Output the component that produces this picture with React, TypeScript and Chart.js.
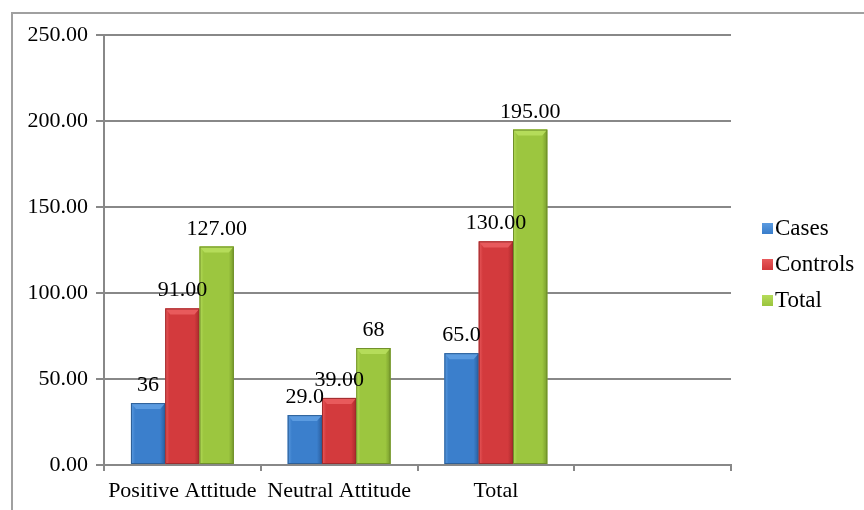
import React, { useEffect, useRef } from "react";
import { Chart, registerables } from "chart.js";

Chart.register(...registerables);

const categories = ["Positive Attitude", "Neutral Attitude", "Total", ""];
const seriesNames = ["Cases", "Controls", "Total"];
const casesValues = [36, 29, 65, null];
const controlsValues = [91, 39, 130, null];
const totalValues = [127, 68, 195, null];
const casesLabels = ["36", "29.0", "65.0", ""];
const controlsLabels = ["91.00", "39.00", "130.00", ""];
const totalLabels = ["127.00", "68", "195.00", ""];
const yTicks = [0, 50, 100, 150, 200, 250];

const FONT = "'Liberation Serif', 'Times New Roman', serif";
const palette = [
  { main: "#3b7fcc", light: "#5b9be0", dark: "#2a5e9e", border: "#2d5f97" },
  { main: "#d33a3d", light: "#e85a5c", dark: "#a8292b", border: "#9e2b2d" },
  { main: "#9cc63f", light: "#b5dc5a", dark: "#789c2c", border: "#6f8f2a" },
];

const bevelPlugin = {
  id: "bevel",
  afterDatasetsDraw(chart: any) {
    const ctx = chart.ctx;
    chart.data.datasets.forEach((ds: any, di: number) => {
      const meta = chart.getDatasetMeta(di);
      const col = palette[di];
      meta.data.forEach((bar: any, i: number) => {
        if (ds.data[i] == null) return;
        const w = bar.width;
        const left = bar.x - w / 2;
        const top = bar.y;
        const bottom = bar.base;
        const h = bottom - top;
        ctx.save();
        const g = ctx.createLinearGradient(left, 0, left + w, 0);
        g.addColorStop(0, col.light);
        g.addColorStop(0.12, col.main);
        g.addColorStop(0.85, col.main);
        g.addColorStop(1, col.dark);
        ctx.fillStyle = g;
        ctx.fillRect(left, top, w, h);
        const bh = Math.min(6, h / 2);
        ctx.fillStyle = col.light;
        ctx.beginPath();
        ctx.moveTo(left, top);
        ctx.lineTo(left + w, top);
        ctx.lineTo(left + w - 5, top + bh);
        ctx.lineTo(left + 5, top + bh);
        ctx.closePath();
        ctx.fill();
        ctx.strokeStyle = col.border;
        ctx.lineWidth = 1;
        ctx.strokeRect(left + 0.5, top + 0.5, w - 1, h - 1);
        ctx.restore();
      });
    });
  },
};

const labelPlugin = {
  id: "valueLabels",
  afterDatasetsDraw(chart: any) {
    const ctx = chart.ctx;
    const all = [casesLabels, controlsLabels, totalLabels];
    ctx.save();
    ctx.font = `22px ${FONT}`;
    ctx.fillStyle = "#000";
    ctx.textAlign = "center";
    ctx.textBaseline = "alphabetic";
    chart.data.datasets.forEach((ds: any, di: number) => {
      const meta = chart.getDatasetMeta(di);
      meta.data.forEach((bar: any, i: number) => {
        if (ds.data[i] == null) return;
        ctx.fillText(all[di][i], bar.x, bar.y - 12);
      });
    });
    ctx.restore();
  },
};

const framePlugin = {
  id: "frame",
  beforeDraw(chart: any) {
    const ctx = chart.ctx;
    ctx.save();
    ctx.fillStyle = "#fff";
    ctx.fillRect(0, 0, chart.width, chart.height);
    ctx.strokeStyle = "#a0a0a0";
    ctx.lineWidth = 2;
    ctx.beginPath();
    ctx.moveTo(12, chart.height + 5);
    ctx.lineTo(12, 13);
    ctx.lineTo(chart.width + 5, 13);
    ctx.stroke();
    ctx.restore();
  },
};

const legendPlugin = {
  id: "customLegend",
  afterDraw(chart: any) {
    const ctx = chart.ctx;
    const x = chart.chartArea.right + 31;
    const y0 = 228;
    ctx.save();
    ctx.font = `23px ${FONT}`;
    ctx.textBaseline = "middle";
    ctx.textAlign = "left";
    seriesNames.forEach((name, i) => {
      const y = y0 + i * 36;
      const col = palette[i];
      const g = ctx.createLinearGradient(x, y - 5, x, y + 5);
      g.addColorStop(0, col.light);
      g.addColorStop(1, col.main);
      ctx.fillStyle = g;
      ctx.fillRect(x, y - 5, 11, 11);
      ctx.fillStyle = "#000";
      ctx.fillText(name, x + 13, y + 1);
    });
    ctx.restore();
  },
};

export default function App() {
  const ref = useRef<HTMLCanvasElement>(null);
  useEffect(() => {
    if (!ref.current) return;
    const chart = new Chart(ref.current, {
      type: "bar",
      data: {
        labels: categories,
        datasets: [
          { label: seriesNames[0], data: casesValues, backgroundColor: palette[0].main },
          { label: seriesNames[1], data: controlsValues, backgroundColor: palette[1].main },
          { label: seriesNames[2], data: totalValues, backgroundColor: palette[2].main },
        ],
      },
      options: {
        responsive: false,
        animation: false,
        layout: { padding: { left: 0, right: 133, top: 35, bottom: 0 } },
        datasets: {
          bar: { categoryPercentage: 0.656, barPercentage: 1 },
        },
        plugins: {
          legend: { display: false },
          tooltip: { enabled: false },
        },
        scales: {
          x: {
            offset: true,
            grid: {
              offset: true,
              drawOnChartArea: false,
              drawTicks: true,
              tickLength: 6,
              color: "#888888",
              lineWidth: 2,
            },
            border: { color: "#888888", width: 2 },
            ticks: {
              color: "#000",
              font: { family: FONT, size: 22 },
              padding: 7,
              maxRotation: 0,
              autoSkip: false,
            },
            afterFit: (s: any) => {
              s.height = 45;
            },
          },
          y: {
            min: 0,
            max: 250,
            afterBuildTicks: (s: any) => {
              s.ticks = yTicks.map((v) => ({ value: v }));
            },
            grid: {
              color: "#888888",
              lineWidth: 2,
              drawTicks: true,
              tickLength: 8,
            },
            border: { color: "#888888", width: 2 },
            ticks: {
              color: "#000",
              font: { family: FONT, size: 22 },
              padding: 8,
              callback: (v: any) => Number(v).toFixed(2),
            },
            afterFit: (s: any) => {
              s.width = 104;
            },
          },
        },
      },
      plugins: [framePlugin, bevelPlugin, labelPlugin, legendPlugin],
    });
    return () => chart.destroy();
  }, []);
  return (
    <div style={{ position: "absolute", left: 0, top: 0, width: 864, height: 510 }}>
      <canvas ref={ref} width={864} height={510} />
    </div>
  );
}
